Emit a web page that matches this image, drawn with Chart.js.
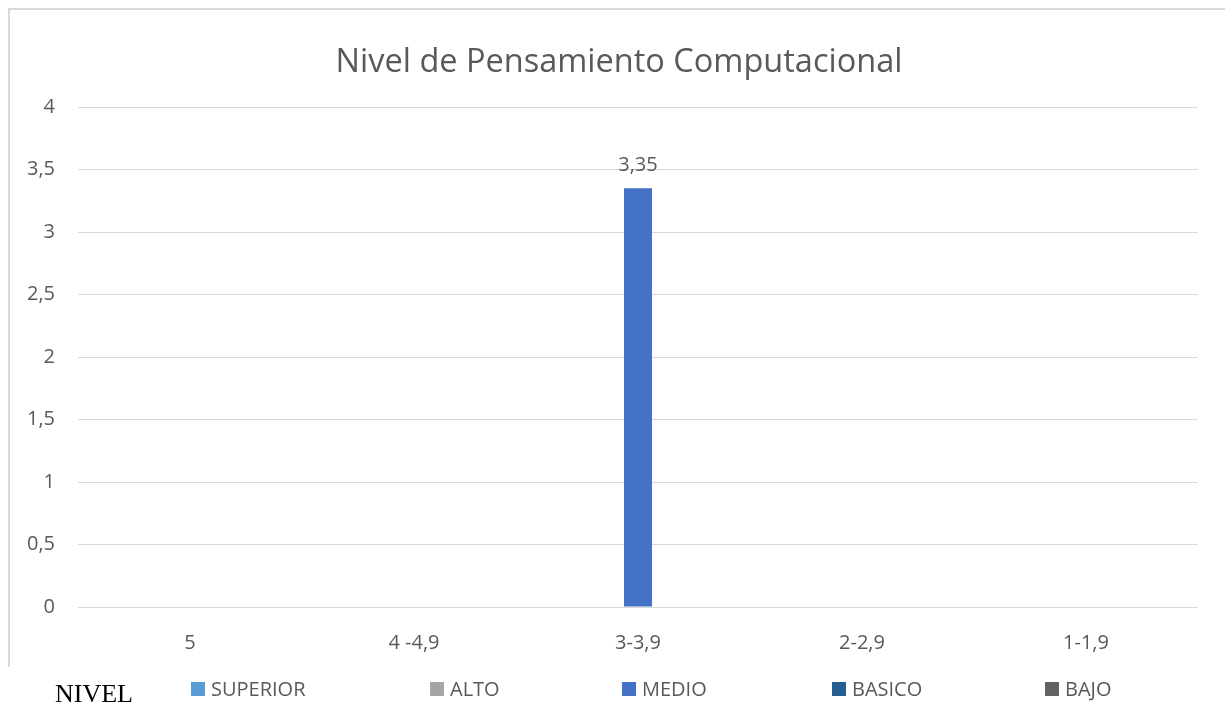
<!DOCTYPE html>
<html>
<head>
    <title>Nivel de Pensamiento Computacional</title>
    <script src="https://cdn.jsdelivr.net/npm/chart.js"></script>
    <style>
        body { margin: 0; background: #fff; }
        #wrap { width: 1225px; height: 725px; position: relative; }
    </style>
</head>
<body>
<div id="wrap"><canvas id="myChart"></canvas></div>
<script>
    // Categories (score ranges) and one series per level
    const categories = ['5', '4 -4,9', '3-3,9', '2-2,9', '1-1,9'];
    const seriesNames = ['SUPERIOR', 'ALTO', 'MEDIO', 'BASICO', 'BAJO'];
    const superior = [null, null, null, null, null];
    const alto = [null, null, null, null, null];
    const medio = [null, null, 3.35, null, null];
    const basico = [null, null, null, null, null];
    const bajo = [null, null, null, null, null];
    const yTicks = [0, 0.5, 1, 1.5, 2, 2.5, 3, 3.5, 4];
    const chartTitle = 'Nivel de Pensamiento Computacional';

    const colors = ['#5B9BD5', '#A5A5A5', '#4472C4', '#255E91', '#636363'];
    const values = [superior, alto, medio, basico, bajo];
    const legendX = [191, 430, 622, 832, 1045]; // where each legend box starts

    const comma = v => String(v).replace('.', ',');
    const textGray = '#595959';

    // frame, title, value labels and the bottom legend row
    const extras = {
        id: 'extras',
        afterDraw(chart) {
            const ctx = chart.ctx;
            ctx.save();
            // frame (top and left edges only are visible)
            ctx.strokeStyle = '#d9d9d9';
            ctx.lineWidth = 2;
            ctx.beginPath();
            ctx.moveTo(9, 667);
            ctx.lineTo(9, 9);
            ctx.lineTo(1225, 9);
            ctx.stroke();

            // title, centred on the frame rather than the plot
            ctx.fillStyle = textGray;
            ctx.textAlign = 'center';
            ctx.textBaseline = 'alphabetic';
            ctx.font = '32.5px "Open Sans"';
            ctx.fillText(chartTitle, 619, 72);

            // value labels above bars
            ctx.font = '20px "Open Sans"';
            chart.data.datasets.forEach((ds, i) => {
                chart.getDatasetMeta(i).data.forEach((bar, j) => {
                    if (ds.data[j] == null) return;
                    ctx.fillText(comma(ds.data[j]), bar.x, bar.y - 17);
                });
            });

            // legend row
            ctx.textAlign = 'left';
            ctx.fillStyle = '#000';
            ctx.font = '26px "Liberation Serif"';
            ctx.fillText('NIVEL', 55, 702);
            ctx.font = '20px "Open Sans"';
            seriesNames.forEach((name, i) => {
                ctx.fillStyle = colors[i];
                ctx.fillRect(legendX[i], 682, 14, 14);
                ctx.fillStyle = textGray;
                ctx.fillText(name, legendX[i] + 20, 696);
            });
            ctx.restore();
        }
    };

    const config = {
        type: 'bar',
        data: {
            labels: categories,
            datasets: seriesNames.map((name, i) => ({
                label: name,
                data: values[i],
                backgroundColor: colors[i],
                categoryPercentage: 0.625,
                barPercentage: 1
            }))
        },
        options: {
            responsive: true,
            maintainAspectRatio: false,
            animation: false,
            layout: { padding: { left: 10, right: 27, top: 107, bottom: 58 } },
            scales: {
                y: {
                    min: 0,
                    max: 4,
                    afterBuildTicks: s => { s.ticks = yTicks.map(v => ({ value: v })); },
                    afterFit: s => { s.width = 68; },
                    border: { display: false },
                    grid: { color: '#d9d9d9', drawTicks: false },
                    ticks: {
                        padding: 23,
                        color: textGray,
                        font: { family: 'Open Sans', size: 20 },
                        callback: v => comma(v)
                    }
                },
                x: {
                    afterFit: s => { s.height = 60; },
                    border: { display: false },
                    grid: { display: false },
                    ticks: {
                        padding: 16,
                        color: textGray,
                        font: { family: 'Open Sans', size: 20 }
                    }
                }
            },
            plugins: {
                legend: { display: false },
                tooltip: { enabled: false },
                title: { display: false }
            }
        },
        plugins: [extras]
    };

    window.onload = function() {
        const ctx = document.getElementById('myChart').getContext('2d');
        new Chart(ctx, config);
    };
</script>
</body>
</html>
